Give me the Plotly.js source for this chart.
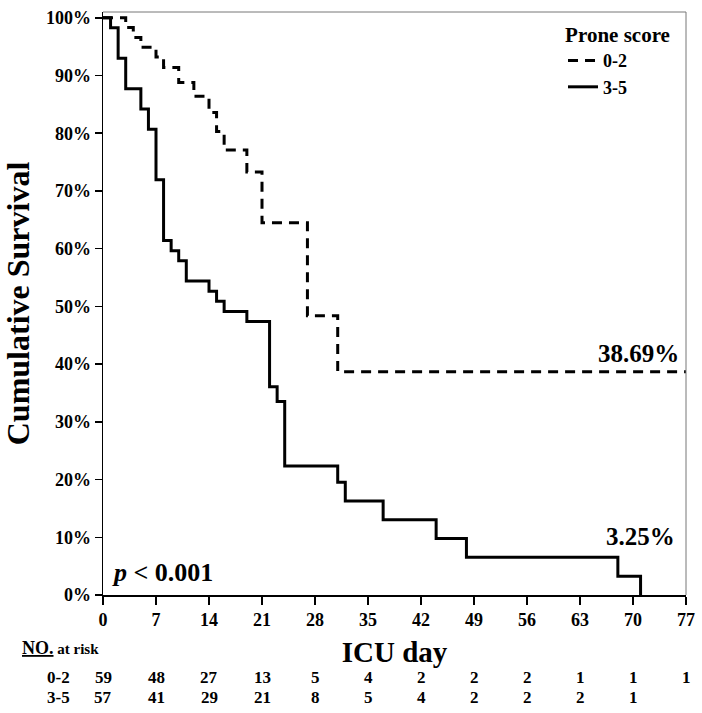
<!DOCTYPE html>
<html>
<head>
<meta charset="utf-8">
<script src="https://cdn.plot.ly/plotly-3.0.1.min.js"></script>
<style>
  html, body { margin: 0; padding: 0; background: #fff; }
  #km { width: 702px; height: 713px; }
</style>
</head>
<body>
<div id="km"></div>
<script>
//------------------------------ Kaplan-Meier data ------------------------------//
var days_02 = [0, 3, 4, 5, 7, 8, 10, 12, 14, 15, 16, 19, 21, 27, 31, 77];
var surv_02 = [100, 98.3, 96.6, 94.9, 93.2, 91.4, 88.8, 86.4, 83.6, 80.3, 77.1, 73.3, 64.48, 48.36, 38.69, 38.69];

var days_35 = [0, 1, 2, 3, 5, 6, 7, 8, 9, 10, 11, 14, 15, 16, 19, 22, 23, 24, 31, 32, 37, 44, 48, 68, 71];
var surv_35 = [100, 98.25, 92.98, 87.72, 84.21, 80.70, 71.93, 61.40, 59.65, 57.89, 54.39, 52.63, 50.88, 49.12, 47.37,
               36.09, 33.52, 22.34, 19.55, 16.29, 13.03, 9.77, 6.52, 3.25, 0];

// number at risk table
var risk_days = [0, 7, 14, 21, 28, 35, 42, 49, 56, 63, 70, 77];
var risk_02 = [59, 48, 27, 13, 5, 4, 2, 2, 2, 1, 1, 1];
var risk_35 = [57, 41, 29, 21, 8, 5, 4, 2, 2, 2, 1];

var pct_ticks = [0, 10, 20, 30, 40, 50, 60, 70, 80, 90, 100];
var groups = ['0-2', '3-5'];
var end_labels = ['38.69%', '3.25%'];

var serif = 'Liberation Serif, Times New Roman, serif';

var trace1 = {
  x: days_02, y: surv_02, name: groups[0],
  type: 'scatter', mode: 'lines',
  line: {shape: 'hv', color: '#000', width: 3, dash: '10px,7px'}
};
var trace2 = {
  x: days_35, y: surv_35, name: groups[1],
  type: 'scatter', mode: 'lines',
  line: {shape: 'hv', color: '#000', width: 3}
};

//------------------------------ annotations: end values, p, at-risk table ------------------------------//
var notes = [
  {x: days_02[days_02.length - 1], y: surv_02[surv_02.length - 1], xref: 'x', yref: 'y',
   text: '<b>' + end_labels[0] + '</b>', showarrow: false, xanchor: 'right', yanchor: 'bottom',
   xshift: -5, yshift: 3, font: {family: serif, size: 25, color: '#000'}},
  {x: days_02[days_02.length - 1], y: surv_35[surv_35.length - 2], xref: 'x', yref: 'y',
   text: '<b>' + end_labels[1] + '</b>', showarrow: false, xanchor: 'right', yanchor: 'bottom',
   xshift: -9, yshift: 24, font: {family: serif, size: 25, color: '#000'}},
  {x: 0.012, y: 0.01, xref: 'paper', yref: 'paper',
   text: '<b><i>p</i> &lt; 0.001</b>', showarrow: false, xanchor: 'left', yanchor: 'bottom',
   font: {family: serif, size: 26, color: '#000'}},
  {x: -0.142, y: -0.0909, xref: 'paper', yref: 'paper',
   text: '<b><u>NO.</u></b><b><span style="font-size:15px"> at risk</span></b>', showarrow: false,
   xanchor: 'left', yanchor: 'middle', font: {family: serif, size: 18, color: '#000'}},
  {x: -0.0755, y: -0.1407, xref: 'paper', yref: 'paper', text: '<b>' + groups[0] + '</b>',
   showarrow: false, xanchor: 'center', yanchor: 'middle', font: {family: serif, size: 17, color: '#000'}},
  {x: -0.0755, y: -0.175, xref: 'paper', yref: 'paper', text: '<b>' + groups[1] + '</b>',
   showarrow: false, xanchor: 'center', yanchor: 'middle', font: {family: serif, size: 17, color: '#000'}}
];

risk_02.forEach(function(n, i) {
  notes.push({x: risk_days[i], y: -0.1407, xref: 'x', yref: 'paper', text: '<b>' + n + '</b>',
    showarrow: false, yanchor: 'middle', font: {family: serif, size: 17, color: '#000'}});
});
risk_35.forEach(function(n, i) {
  notes.push({x: risk_days[i], y: -0.175, xref: 'x', yref: 'paper', text: '<b>' + n + '</b>',
    showarrow: false, yanchor: 'middle', font: {family: serif, size: 17, color: '#000'}});
});

var layout = {
  width: 702, height: 713,
  margin: {l: 103, r: 16, t: 12, b: 118},
  paper_bgcolor: '#fff', plot_bgcolor: '#fff',
  font: {family: serif, color: '#000'},
  showlegend: true,
  legend: {
    x: 0.976, xanchor: 'right', y: 0.995, yanchor: 'top',
    bgcolor: 'rgba(0,0,0,0)', borderwidth: 0,
    title: {text: '<b>Prone score</b>', side: 'top center', font: {family: serif, size: 21}},
    font: {family: serif, size: 18, weight: 'bold'},
    tracegroupgap: 0, itemwidth: 30
  },
  xaxis: {
    range: [0, 77], tickmode: 'array', tickvals: risk_days,
    showgrid: false, zeroline: false,
    showline: true, linecolor: '#000', linewidth: 1.5,
    ticks: 'outside', ticklen: 8, tickcolor: '#000', tickwidth: 1.5,
    tickfont: {family: serif, size: 18, weight: 'bold'},
    title: {text: '<b>ICU day</b>', standoff: 12, font: {family: serif, size: 29}},
    fixedrange: true
  },
  yaxis: {
    range: [0, 101], tickmode: 'array', tickvals: pct_ticks,
    ticktext: pct_ticks.map(function(v) { return v + '%'; }),
    showgrid: false, zeroline: false,
    showline: true, linecolor: '#000', linewidth: 1.5,
    ticks: 'outside', ticklen: 7, tickcolor: '#000', tickwidth: 1.5,
    tickfont: {family: serif, size: 18, weight: 'bold'},
    title: {text: '<b>Cumulative Survival</b>', standoff: 8, font: {family: serif, size: 32}},
    fixedrange: true
  },
  shapes: [
    {type: 'line', xref: 'paper', yref: 'paper', x0: 0, x1: 1, y0: 1, y1: 1, line: {color: '#777', width: 1}},
    {type: 'line', xref: 'paper', yref: 'paper', x0: 1, x1: 1, y0: 0, y1: 1, line: {color: '#777', width: 1}}
  ],
  annotations: notes
};

var config = {responsive: false, displayModeBar: false, staticPlot: true};
Plotly.newPlot('km', [trace1, trace2], layout, config);
</script>
</body>
</html>
